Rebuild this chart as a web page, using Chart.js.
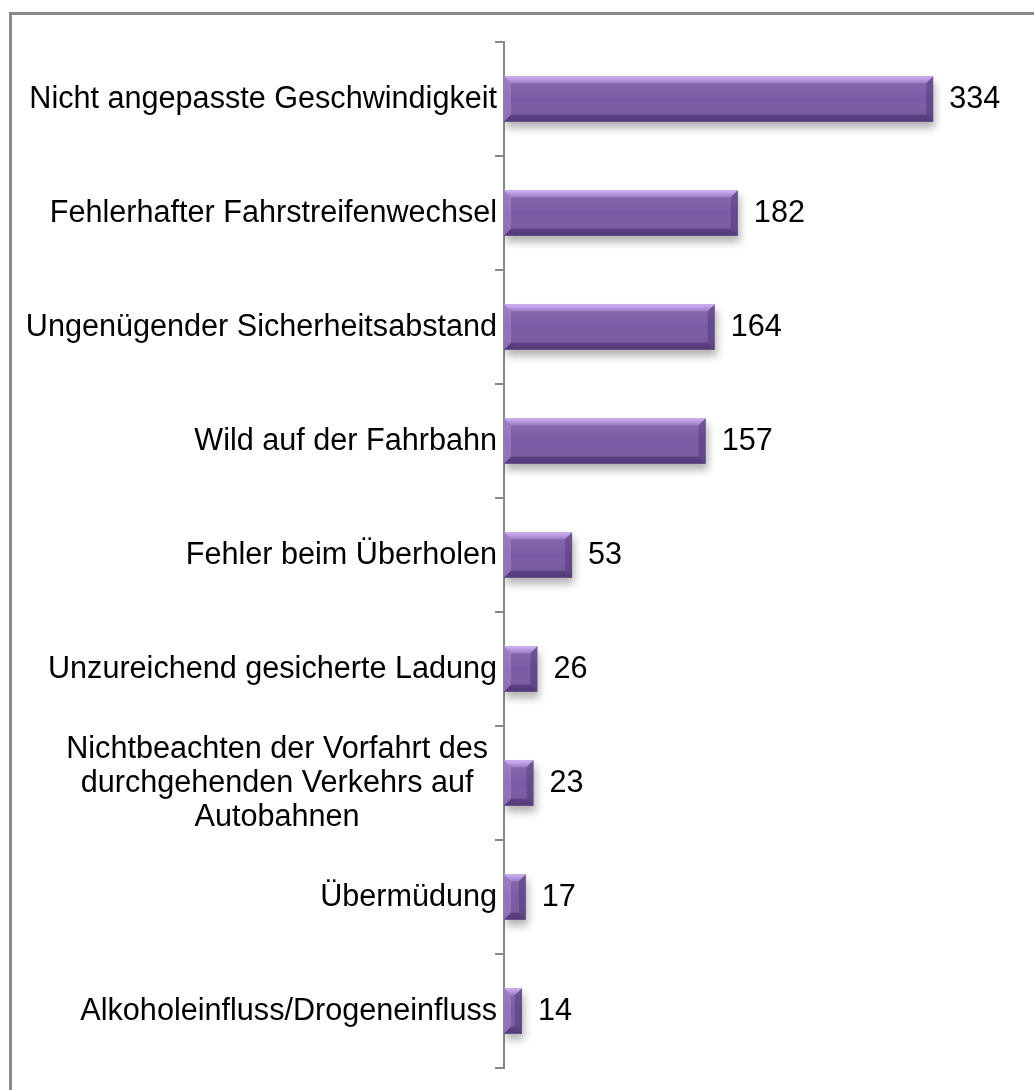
<!DOCTYPE html>
<html>
<head>
<meta charset="utf-8">
<script src="https://cdn.jsdelivr.net/npm/chart.js@4.4.1/dist/chart.umd.min.js"></script>
<style>
  html, body { margin: 0; padding: 0; background: #fff; }
  #wrap { position: relative; width: 1034px; height: 1090px; overflow: hidden; }
  #wrap canvas { position: absolute; left: 0; top: 0; }
  #frame {
    position: absolute; left: 9px; top: 12px; width: 1040px; height: 1100px;
    border-left: 3px solid #888; border-top: 3px solid #888; pointer-events: none;
  }
</style>
</head>
<body>
<div id="wrap">
  <canvas id="myChart" width="1034" height="1090"></canvas>
  <div id="frame"></div>
</div>
<script>
const categories = [
  'Nicht angepasste Geschwindigkeit',
  'Fehlerhafter Fahrstreifenwechsel',
  'Ungenügender Sicherheitsabstand',
  'Wild auf der Fahrbahn',
  'Fehler beim Überholen',
  'Unzureichend gesicherte Ladung',
  ['Nichtbeachten der Vorfahrt des', 'durchgehenden Verkehrs auf', 'Autobahnen'],
  'Übermüdung',
  'Alkoholeinfluss/Drogeneinfluss'
];
const values = [334, 182, 164, 157, 53, 26, 23, 17, 14];

const FONT = "30.6px 'Liberation Sans', Arial, sans-serif";

// soft shadow under the bars
const shadowPlugin = {
  id: 'barShadow',
  beforeDatasetDraw(chart) {
    const ctx = chart.ctx;
    ctx.save();
    ctx.shadowColor = 'rgba(0,0,0,0.30)';
    ctx.shadowBlur = 8;
    ctx.shadowOffsetX = 2;
    ctx.shadowOffsetY = 6;
  },
  afterDatasetDraw(chart) {
    chart.ctx.restore();
  }
};

// bevel look + value labels
const bevelPlugin = {
  id: 'bevel',
  afterDatasetsDraw(chart) {
    const ctx = chart.ctx;
    const meta = chart.getDatasetMeta(0);
    meta.data.forEach((bar, i) => {
      const x0 = bar.base, x1 = bar.x;
      const y0 = bar.y - bar.height / 2, y1 = bar.y + bar.height / 2;
      const b = Math.min(7, (x1 - x0) / 2, (y1 - y0) / 2);
      ctx.save();
      // body gradient
      const g = ctx.createLinearGradient(0, y0, 0, y1);
      g.addColorStop(0, 'rgba(255,255,255,0.12)');
      g.addColorStop(0.5, 'rgba(255,255,255,0)');
      g.addColorStop(1, 'rgba(0,0,0,0.10)');
      ctx.fillStyle = g;
      ctx.fillRect(x0, y0, x1 - x0, y1 - y0);
      // top bevel
      const gt = ctx.createLinearGradient(0, y0, 0, y0 + b);
      gt.addColorStop(0, 'rgba(220,190,255,0.9)');
      gt.addColorStop(1, 'rgba(185,150,230,0.5)');
      ctx.fillStyle = gt;
      ctx.beginPath();
      ctx.moveTo(x0, y0); ctx.lineTo(x1, y0); ctx.lineTo(x1 - b, y0 + b); ctx.lineTo(x0 + b, y0 + b);
      ctx.closePath(); ctx.fill();
      // left bevel
      ctx.fillStyle = 'rgba(190,160,235,0.35)';
      ctx.beginPath();
      ctx.moveTo(x0, y0); ctx.lineTo(x0 + b, y0 + b); ctx.lineTo(x0 + b, y1 - b); ctx.lineTo(x0, y1);
      ctx.closePath(); ctx.fill();
      // right bevel
      ctx.fillStyle = 'rgba(45,25,80,0.28)';
      ctx.beginPath();
      ctx.moveTo(x1, y0); ctx.lineTo(x1 - b, y0 + b); ctx.lineTo(x1 - b, y1 - b); ctx.lineTo(x1, y1);
      ctx.closePath(); ctx.fill();
      // bottom bevel
      ctx.fillStyle = 'rgba(40,20,75,0.36)';
      ctx.beginPath();
      ctx.moveTo(x0, y1); ctx.lineTo(x1, y1); ctx.lineTo(x1 - b, y1 - b); ctx.lineTo(x0 + b, y1 - b);
      ctx.closePath(); ctx.fill();
      ctx.restore();

      // value label
      ctx.save();
      ctx.font = FONT;
      ctx.fillStyle = '#000';
      ctx.textAlign = 'left';
      ctx.textBaseline = 'middle';
      ctx.fillText(String(values[i]), x1 + 16, bar.y + 1);
      ctx.restore();
    });
  },
  afterDraw(chart) {
    // category labels (multi-line ones centred like the original)
    const ctx = chart.ctx;
    const yScale = chart.scales.y;
    const right = 497;
    const lineH = 34;
    ctx.save();
    ctx.font = FONT;
    ctx.fillStyle = '#000';
    ctx.textBaseline = 'middle';
    categories.forEach((lab, i) => {
      const yc = yScale.getPixelForValue(i) + 1;
      if (Array.isArray(lab)) {
        const w = Math.max(...lab.map(s => ctx.measureText(s).width));
        const cx = right - 9 - w / 2;
        ctx.textAlign = 'center';
        lab.forEach((s, k) => {
          ctx.fillText(s, cx, yc + (k - (lab.length - 1) / 2) * lineH);
        });
      } else {
        ctx.textAlign = 'right';
        ctx.fillText(lab, right, yc);
      }
    });
    ctx.restore();
  }
};

const ctx = document.getElementById('myChart').getContext('2d');
const myChart = new Chart(ctx, {
  type: 'bar',
  data: {
    labels: categories,
    datasets: [{
      data: values,
      backgroundColor: '#7a5aa5',
      borderWidth: 0,
      barPercentage: 0.40,
      categoryPercentage: 1.0
    }]
  },
  options: {
    indexAxis: 'y',
    responsive: false,
    animation: false,
    events: [],
    layout: { padding: { left: 0, top: 42, right: 16, bottom: 22 } },
    plugins: {
      legend: { display: false },
      tooltip: { enabled: false }
    },
    scales: {
      x: {
        display: false,
        min: 0,
        max: 400
      },
      y: {
        afterFit(scale) { scale.width = 504; },
        ticks: { display: false },
        grid: {
          offset: true,
          drawOnChartArea: false,
          drawTicks: true,
          tickLength: 9,
          color: '#888',
          lineWidth: 2
        },
        border: { display: true, color: '#888', width: 2 }
      }
    }
  },
  plugins: [shadowPlugin, bevelPlugin]
});
</script>
</body>
</html>
